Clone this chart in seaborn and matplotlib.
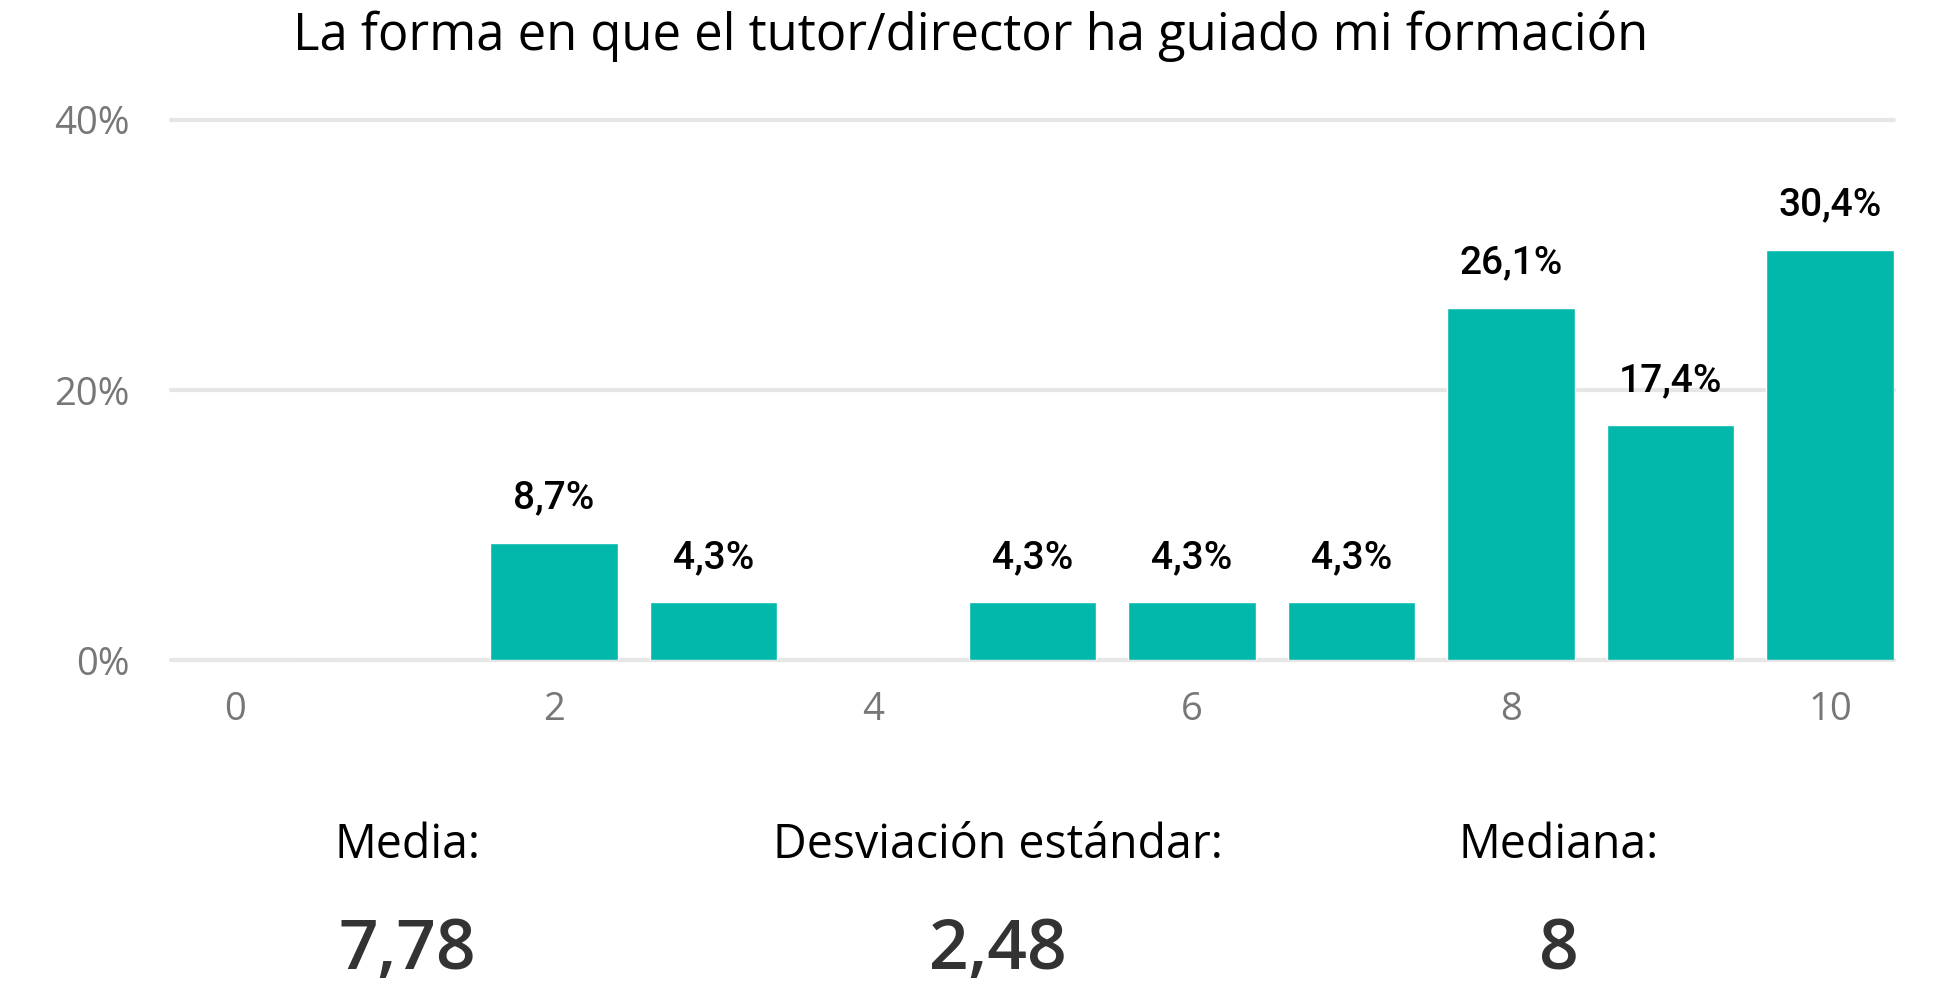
import matplotlib
matplotlib.use("Agg")
import matplotlib.pyplot as plt
import seaborn as sns
import pandas as pd

# Data
scores = list(range(11))
shares = [0.0, 0.0, 8.7, 4.3, 0.0, 4.3, 4.3, 4.3, 26.1, 17.4, 30.4]
tick_values = [0, 2, 4, 6, 8, 10]
y_ticks = [0, 20, 40]

title = "La forma en que el tutor/director ha guiado mi formación"
stat_names = ["Media:", "Desviación estándar:", "Mediana:"]
stat_values = ["7,78", "2,48", "8"]

bar_color = "#01B8AA"
grid_color = "#E6E6E6"
tick_color = "#777777"

sns.set_theme(style="white")
plt.rcParams['font.family'] = ['Open Sans', 'DejaVu Sans']

df = pd.DataFrame({'score': scores, 'share': shares})

fig = plt.figure(figsize=(19.41, 9.9), dpi=100)
ax = fig.add_axes([0.0881, 0.3333, 0.8877, 0.5455])

sns.barplot(data=df, x='score', y='share', order=scores, color=bar_color,
            saturation=1, width=0.8, ax=ax)

ax.set_xlim(-0.4, 10.4)
ax.set_ylim(0, 40)
ax.set_yticks(y_ticks)
ax.set_yticklabels([f"{v}%" for v in y_ticks])
ax.set_xticks(tick_values)
ax.set_xticklabels([str(v) for v in tick_values])
ax.tick_params(axis='y', labelsize=27.5, labelcolor=tick_color, length=0, pad=30)
ax.tick_params(axis='x', labelsize=27.5, labelcolor=tick_color, length=0, pad=22)
ax.set_xlabel("")
ax.set_ylabel("")
for s in ax.spines.values():
    s.set_visible(False)

ax.set_axisbelow(True)
for yv in y_ticks:
    ax.axhline(yv, color=grid_color, lw=3, zorder=0, clip_on=False)

# value labels
for x, v in zip(scores, shares):
    if v > 0:
        ax.annotate(f"{v:.1f}%".replace('.', ','), (x, v), xytext=(0, 32),
                    textcoords='offset points', ha='center', va='center',
                    fontsize=28, fontweight='medium', color='black',
                    family=['Roboto', 'DejaVu Sans'], annotation_clip=False)

fig.text(0.5, 0.963, title, ha='center', va='center', fontsize=36.5, color='black')

stat_x = [0.2097, 0.5142, 0.8032]
for xf, name, val in zip(stat_x, stat_names, stat_values):
    fig.text(xf, 0.1465, name, ha='center', va='center', fontsize=33.5, color='black')
    fig.text(xf, 0.039, val, ha='center', va='center', fontsize=50,
             fontweight='semibold', color='#333333')

fig.savefig('out.png', dpi=100)
